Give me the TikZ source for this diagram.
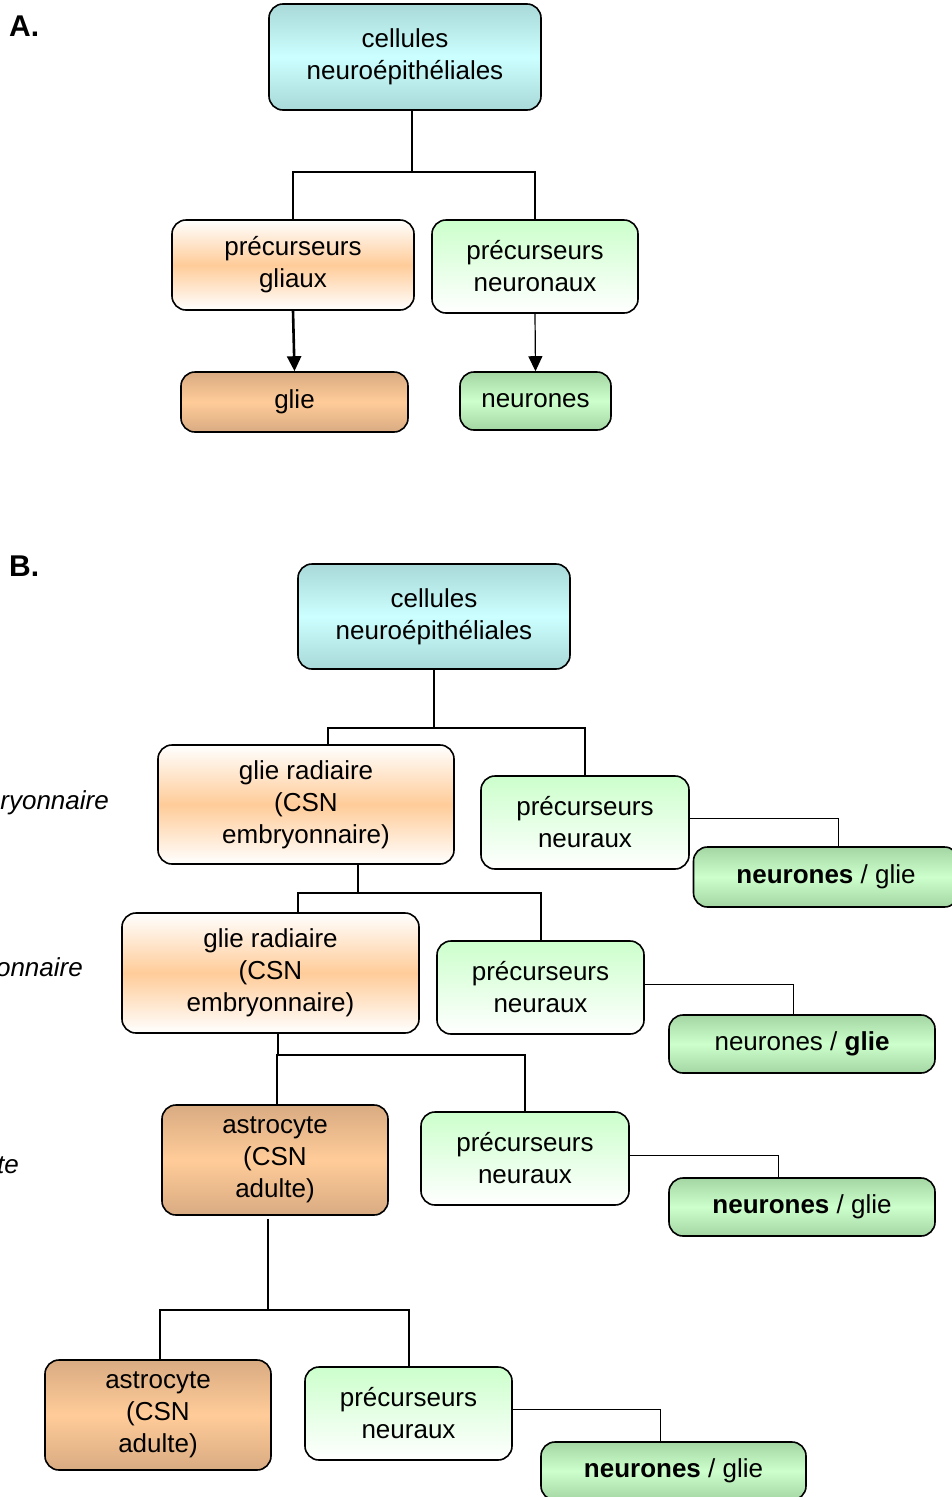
\documentclass[tikz,border=0pt]{standalone}
\usepackage{fontspec}
\setmainfont{Liberation Sans}
\usetikzlibrary{arrows.meta}
\definecolor{cyanM}{HTML}{CCFFFF}
\definecolor{cyanE}{HTML}{A9D9D9}
\definecolor{peach}{HTML}{FFCC99}
\definecolor{tanE}{HTML}{D9AB82}
\definecolor{grnM}{HTML}{CCFFCC}
\definecolor{grnE}{HTML}{A3D6A3}
\tikzset{
  box/.style={draw=black, line width=1.6pt, rounded corners=14pt, align=center, inner sep=0pt, font=\fontsize{26}{32}\selectfont},
  cyanbox/.style={box, top color=cyanE, bottom color=cyanE, middle color=cyanM},
  peachbox/.style={box, top color=white, bottom color=white, middle color=peach},
  tanbox/.style={box, top color=tanE, bottom color=tanE, middle color=peach},
  paleg/.style={box, top color=grnM, bottom color=white},
  grnbox/.style={box, top color=grnE, bottom color=grnE, middle color=grnM},
  conn/.style={line width=1.8pt},
  thin conn/.style={line width=1pt},
  side/.style={font=\fontsize{26}{32}\selectfont\itshape, anchor=east, inner sep=0pt},
  panel/.style={font=\fontsize{30}{34}\selectfont\bfseries, anchor=west, inner sep=0pt}
}
\begin{document}
\begin{tikzpicture}[x=1pt,y=-1pt]
\clip (0,0) rectangle (952,1497);
\useasboundingbox (0,0) rectangle (952,1497);

% ---------- Part A ----------
\node[panel] (labA) at (9,26) {A.};
\node[cyanbox, minimum width=272pt, minimum height=106pt] (Acell) at (405,57) {cellules\\neuroépithéliales};
\node[peachbox, minimum width=242pt, minimum height=90pt] (Aglp) at (293,265) {précurseurs\\gliaux};
\node[paleg, minimum width=206pt, minimum height=93pt] (Aneup) at (535,266.5) {précurseurs\\neuronaux};
\node[tanbox, minimum width=227pt, minimum height=60pt] (Aglie) at (294.5,402) {glie};
\node[grnbox, minimum width=151pt, minimum height=58pt] (Aneu) at (535.5,401) {neurones};

\coordinate (AJ) at (412,172);
\draw[conn] (AJ |- Acell.south) -- (AJ);
\draw[conn] (Aglp.north) |- (AJ) -| (Aneup.north);
\draw[line width=2.6pt, -{Triangle[width=14pt,length=15pt]}] (Aglp.south) -- (Aglie.north);
\draw[line width=1.2pt, -{Triangle[width=14pt,length=15pt]}] (Aneup.south) -- (Aneu.north);

% ---------- Part B ----------
\node[panel] (labB) at (9,566) {B.};
\node[cyanbox, minimum width=272pt, minimum height=105pt] (Bcell) at (434,616.5) {cellules\\neuroépithéliales};

\node[peachbox, minimum width=296pt, minimum height=119pt] (Brg1) at (306,804.5) {glie radiaire\\(CSN\\embryonnaire)};
\node[paleg, minimum width=208pt, minimum height=93pt] (Bpn1) at (585,822.5) {précurseurs\\neuraux};
\node[grnbox, minimum width=265pt, minimum height=60pt] (Bng1) at (826,877) {\textbf{neurones} / glie};

\node[peachbox, minimum width=297pt, minimum height=120pt] (Brg2) at (270.5,973) {glie radiaire\\(CSN\\embryonnaire)};
\node[paleg, minimum width=207pt, minimum height=93pt] (Bpn2) at (540.5,987.5) {précurseurs\\neuraux};
\node[grnbox, minimum width=266pt, minimum height=58pt] (Bng2) at (802,1044) {neurones / \textbf{glie}};

\node[tanbox, minimum width=226pt, minimum height=110pt] (Bast1) at (275,1160) {astrocyte\\(CSN\\adulte)};
\node[paleg, minimum width=208pt, minimum height=93pt] (Bpn3) at (525,1158.5) {précurseurs\\neuraux};
\node[grnbox, minimum width=266pt, minimum height=58pt] (Bng3) at (802,1207) {\textbf{neurones} / glie};

\node[tanbox, minimum width=226pt, minimum height=110pt] (Bast2) at (158,1415) {astrocyte\\(CSN\\adulte)};
\node[paleg, minimum width=207pt, minimum height=93pt] (Bpn4) at (408.5,1413.5) {précurseurs\\neuraux};
\node[grnbox, minimum width=265pt, minimum height=58pt] (Bng4) at (673.5,1471) {\textbf{neurones} / glie};

\node[side] (s1) at (109,803) {ryonnaire};
\node[side] (s2) at (83,967) {onnaire};
\node[side] (s3) at (19,1165) {te};

% connectors B
\coordinate (J1) at (434,728);
\coordinate (J1l) at (328,728);
\coordinate (J1r) at (585,728);
\draw[conn] (Bcell.south) -- (J1);
\draw[conn] (Brg1.north -| J1l) -- (J1l) -- (J1r) -- (Bpn1.north -| J1r);
\coordinate (K1) at (838,818);
\draw[thin conn] (Bpn1.east |- K1) -- (K1) -- (Bng1.north -| K1);

\coordinate (J2) at (358,893);
\coordinate (J2l) at (298,893);
\coordinate (J2r) at (541,893);
\draw[conn] (Brg1.south -| J2) -- (J2);
\draw[conn] (Brg2.north -| J2l) -- (J2l) -- (J2r) -- (Bpn2.north -| J2r);
\coordinate (K2) at (793,984);
\draw[thin conn] (Bpn2.east |- K2) -- (K2) -- (Bng2.north -| K2);

\coordinate (J3) at (278,1055);
\coordinate (J3l) at (277,1055);
\coordinate (J3r) at (525,1055);
\draw[conn] (Brg2.south -| J3) -- (J3);
\draw[conn] (Bast1.north -| J3l) -- (J3l) -- (J3r) -- (Bpn3.north -| J3r);
\coordinate (K3) at (778,1155);
\draw[thin conn] (Bpn3.east |- K3) -- (K3) -- (Bng3.north -| K3);

\coordinate (J4) at (268,1310);
\coordinate (J4l) at (160,1310);
\coordinate (J4r) at (409,1310);
\draw[conn] ([yshift=-3pt]Bast1.south -| J4) -- (J4);
\draw[conn] (Bast2.north -| J4l) -- (J4l) -- (J4r) -- (Bpn4.north -| J4r);
\coordinate (K4) at (660,1409);
\draw[thin conn] (Bpn4.east |- K4) -- (K4) -- (Bng4.north -| K4);
\end{tikzpicture}
\end{document}
